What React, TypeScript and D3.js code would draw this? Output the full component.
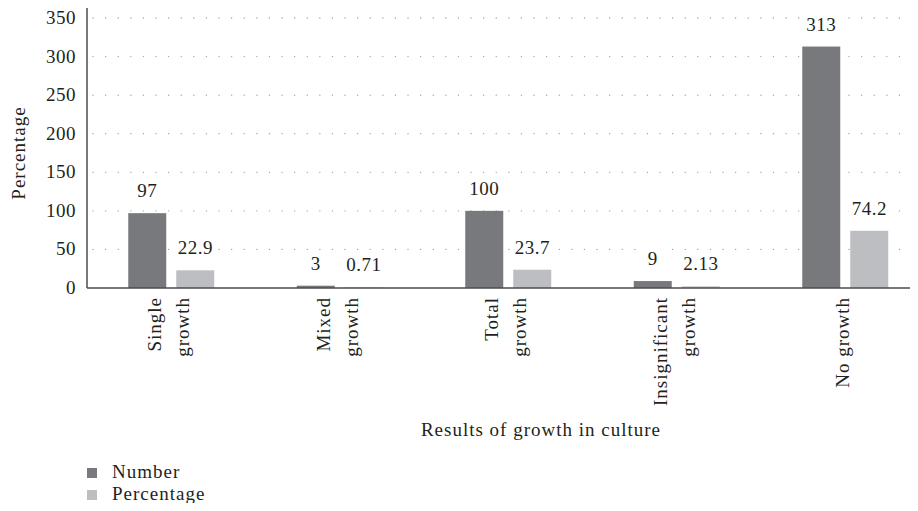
import { FC, useEffect, useRef } from 'react';
import * as d3 from 'd3';

const categories = [
  ['Single', 'growth'],
  ['Mixed', 'growth'],
  ['Total', 'growth'],
  ['Insignificant', 'growth'],
  ['No growth'],
];
const numberValues = [97, 3, 100, 9, 313];
const percentValues = [22.9, 0.71, 23.7, 2.13, 74.2];
const percentLabels = ['22.9', '0.71', '23.7', '2.13', '74.2'];
const yTicks = [0, 50, 100, 150, 200, 250, 300, 350];
const seriesNames = ['Number', 'Percentage'];
const colors = ['#78797c', '#bdbec1'];

const FONT = '"Liberation Serif", "DejaVu Serif", serif';
const FS = 19;
const LS = 1;

const GrowthChart: FC = () => {
  const svgRef = useRef<SVGSVGElement>(null);

  useEffect(() => {
    if (!svgRef.current) return;
    const width = 918;
    const left = 87;
    const bottom = 288;

    d3.select(svgRef.current).selectAll('*').remove();
    const svg = d3.select(svgRef.current);

    const txt = (sel: d3.Selection<SVGTextElement, any, any, any>) =>
      sel
        .attr('font-family', FONT)
        .attr('font-size', FS)
        .attr('letter-spacing', LS)
        .attr('fill', '#231f20');

    const x0 = d3
      .scaleBand<number>()
      .domain(d3.range(categories.length))
      .range([left, left + 168.5 * categories.length]);

    const x1 = d3
      .scaleBand<number>()
      .domain([0, 1])
      .range([x0.bandwidth() / 2 - 43, x0.bandwidth() / 2 + 43])
      .paddingInner(10 / 48);

    const y = d3.scaleLinear().domain([0, 350]).range([bottom, 18]);

    // dotted gridlines
    svg
      .append('g')
      .selectAll('line')
      .data(yTicks.filter(t => t > 0))
      .enter()
      .append('line')
      .attr('x1', left + 6)
      .attr('x2', width)
      .attr('y1', d => y(d))
      .attr('y2', d => y(d))
      .attr('stroke', '#a0a0a0')
      .attr('stroke-width', 1.3)
      .attr('stroke-linecap', 'round')
      .attr('stroke-dasharray', '0.1,12.5');

    // y tick labels
    svg
      .append('g')
      .selectAll('text')
      .data(yTicks)
      .enter()
      .append('text')
      .attr('x', 76)
      .attr('y', d => y(d) + 6)
      .attr('text-anchor', 'end')
      .call(txt)
      .attr('letter-spacing', 0.5)
      .text(d => d);

    const series = [numberValues, percentValues];

    series.forEach((vals, si) => {
      const g = svg.append('g');
      g.selectAll('rect')
        .data(vals)
        .enter()
        .append('rect')
        .attr('x', (_, i) => (x0(i) as number) + (x1(si) as number))
        .attr('width', x1.bandwidth())
        .attr('y', d => y(d))
        .attr('height', d => bottom - y(d))
        .attr('fill', colors[si]);

      const labels = g
        .selectAll('g.lbl')
        .data(vals)
        .enter()
        .append('g')
        .attr('class', 'lbl');

      const t = labels
        .append('text')
        .attr('x', (_, i) => (x0(i) as number) + (x1(si) as number) + x1.bandwidth() / 2)
        .attr('y', d => y(d) - 16)
        .attr('text-anchor', 'middle')
        .call(txt)
        .attr('letter-spacing', 0.5)
        .text((d, i) => (si === 0 ? String(d) : percentLabels[i]));

      // white box behind label so dots break around it
      t.each(function () {
        const bb = (this as SVGTextElement).getBBox();
        d3.select((this as SVGTextElement).parentNode as SVGGElement)
          .insert('rect', 'text')
          .attr('x', bb.x - 3)
          .attr('y', bb.y)
          .attr('width', bb.width + 6)
          .attr('height', bb.height)
          .attr('fill', '#fff');
      });
    });

    // axes lines
    svg
      .append('line')
      .attr('x1', left)
      .attr('x2', left)
      .attr('y1', 5)
      .attr('y2', bottom)
      .attr('stroke', '#4d4d4f')
      .attr('stroke-width', 1.5);
    svg
      .append('line')
      .attr('x1', left)
      .attr('x2', width)
      .attr('y1', bottom)
      .attr('y2', bottom)
      .attr('stroke', '#4d4d4f')
      .attr('stroke-width', 1.5);

    // category labels (rotated)
    categories.forEach((lines, i) => {
      const cx = (x0(i) as number) + x0.bandwidth() / 2;
      const lh = 28;
      const g = svg
        .append('g')
        .attr('transform', `translate(${cx},297) rotate(-90)`);
      lines.forEach((ln, j) => {
        g.append('text')
          .attr('x', 0)
          .attr('y', (j - (lines.length - 1) / 2) * lh + 4)
          .attr('text-anchor', 'end')
          .call(txt)
          .text(ln);
      });
    });

    // axis titles
    svg
      .append('text')
      .attr('x', 541)
      .attr('y', 436)
      .attr('text-anchor', 'middle')
      .call(txt)
      .text('Results of growth in culture');

    svg
      .append('text')
      .attr('transform', `translate(25,153) rotate(-90)`)
      .attr('text-anchor', 'middle')
      .call(txt)
      .text('Percentage');

    // legend
    seriesNames.forEach((name, i) => {
      const ly = 478 + i * 22;
      svg
        .append('rect')
        .attr('x', 87)
        .attr('y', ly - 10)
        .attr('width', 10)
        .attr('height', 10)
        .attr('fill', colors[i]);
      svg
        .append('text')
        .attr('x', 112)
        .attr('y', ly)
        .call(txt)
        .text(name);
    });
  }, []);

  return <svg ref={svgRef} width={918} height={511} style={{ display: 'block' }} />;
};

export default function App() {
  return (
    <div style={{ margin: -8 }}>
      <GrowthChart />
    </div>
  );
}
